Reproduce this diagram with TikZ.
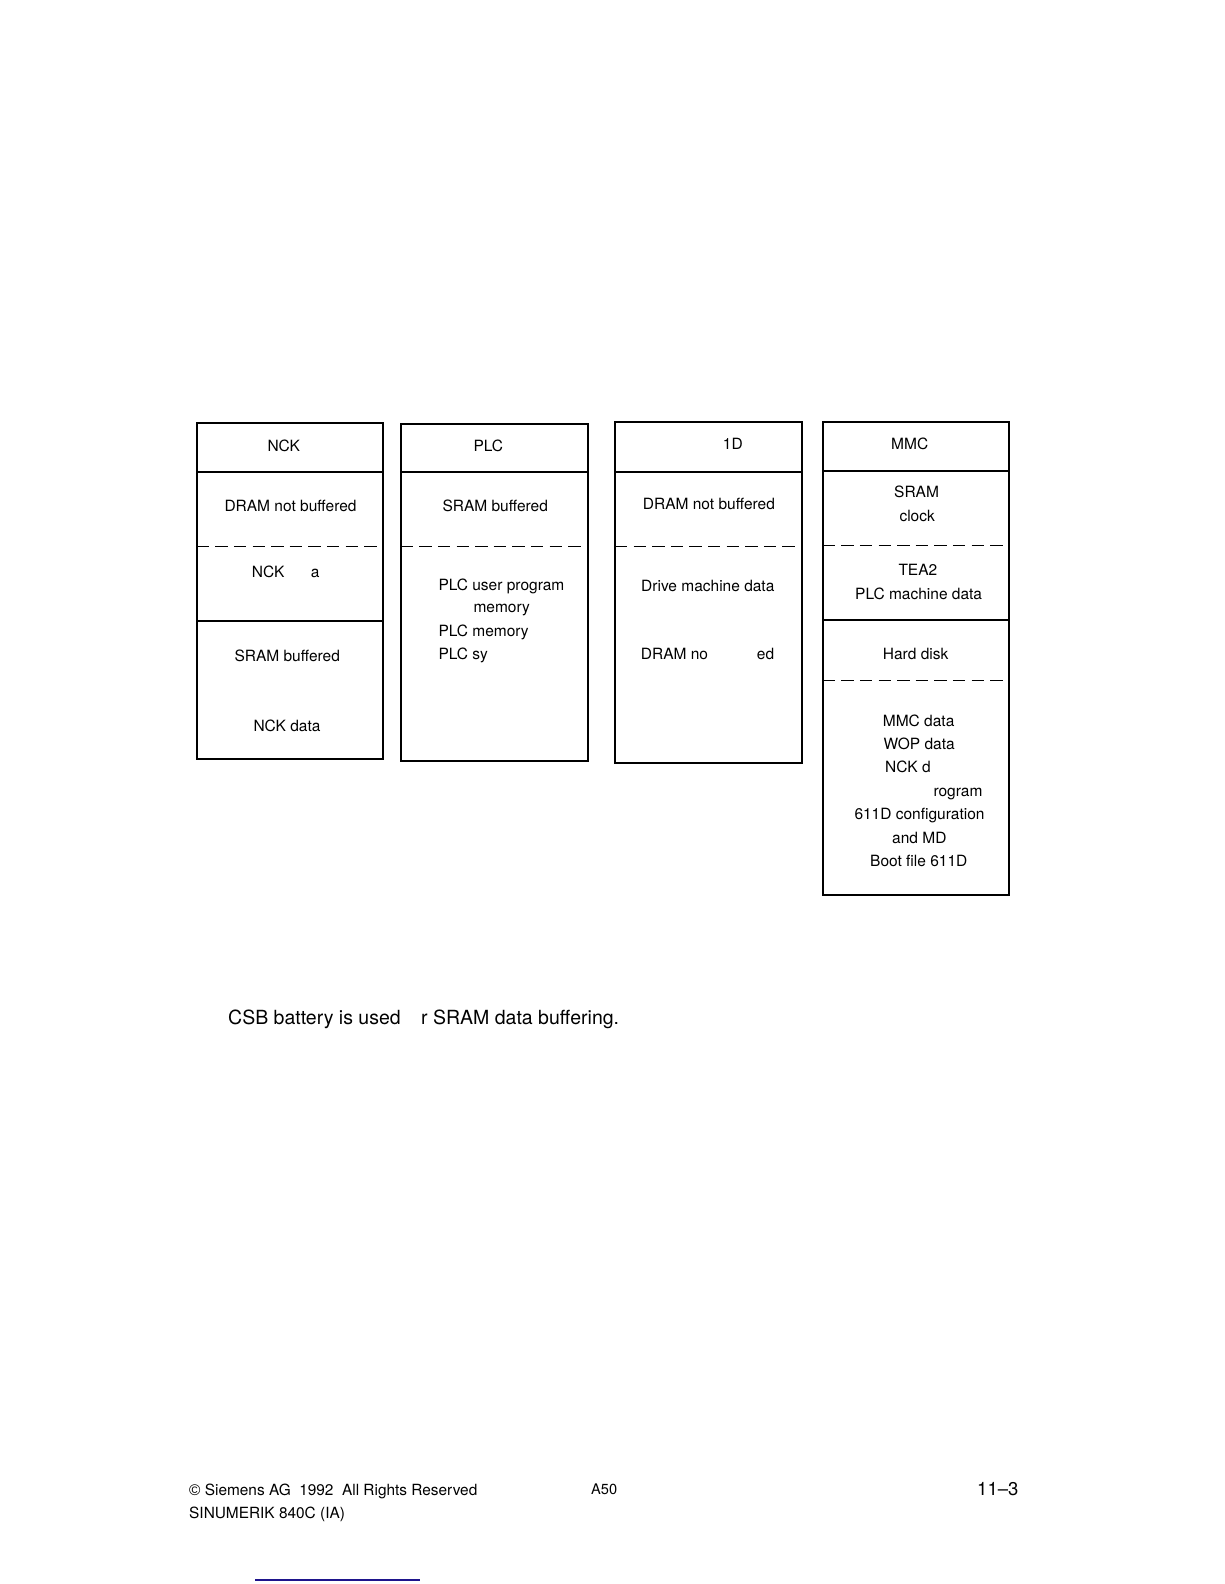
\documentclass[tikz,border=0pt]{standalone}
\usepackage{fontspec}
\setmainfont{TeX Gyre Heros}
\newfontfamily\arialf{Liberation Sans}
\definecolor{linkblue}{RGB}{30,20,140}
\begin{document}
\begin{tikzpicture}[x=1pt,y=-1pt,
  outer/.style={draw=black,line width=1.8pt},
  sepline/.style={draw=black,line width=1.2pt},
  midline/.style={draw=black,line width=1.6pt},
  dashline/.style={draw=black,line width=1pt,dash pattern=on 12.4pt off 6.2pt},
  lbl/.style={anchor=base west,inner sep=0pt,font=\fontsize{15.5}{18}\selectfont},
  note/.style={anchor=base west,inner sep=0pt,font=\fontsize{19.5}{22}\selectfont},
  foot/.style={anchor=base west,inner sep=0pt,font=\fontsize{15.4}{18}\selectfont}]
\useasboundingbox[fill=white] (0,0) rectangle (1224,1584);

% ---- box 1: NCK
\coordinate (b1tl) at (196.7,423); \coordinate (b1br) at (383,759);
\draw[outer] (b1tl) rectangle (b1br);
\draw[sepline] (196.7,472) -- (383,472);
\draw[dashline] (196.7,546) -- (376.5,546);
\draw[midline] (196.7,621) -- (383,621);
\node[lbl] (n1a) at (267.3,451) {NCK};
\node[lbl] (n1b) at (224.3,511.7) {DRAM not buffered};
\node[lbl] (n1c) at (251.7,577) {NCK};
\node[lbl] (n1d) at (310.7,577) {a};
\node[lbl] (n1e) at (234.3,661.7) {SRAM buffered};
\node[lbl] (n1f) at (253.3,731) {NCK data};

% ---- box 2: PLC
\coordinate (b2tl) at (400.7,424); \coordinate (b2br) at (588,761);
\draw[outer] (b2tl) rectangle (b2br);
\draw[sepline] (400.7,472) -- (588,472);
\draw[dashline] (400.7,546) -- (580.5,546);
\node[lbl] (n2a) at (473.3,451) {PLC};
\node[lbl] (n2b) at (442.3,511.7) {SRAM buffered};
\node[lbl] (n2c) at (438.3,590) {PLC user program};
\node[lbl] (n2d) at (473.3,612) {memory};
\node[lbl] (n2e) at (438.3,636.7) {PLC memory};
\node[lbl] (n2f) at (438.3,659) {PLC sy};

% ---- box 3: 1D
\coordinate (b3tl) at (615,422); \coordinate (b3br) at (802,763);
\draw[outer] (b3tl) rectangle (b3br);
\draw[sepline] (615,472) -- (802,472);
\draw[dashline] (615,546) -- (794.8,546);
\node[lbl] (n3a) at (722.7,449) {1D};
\node[lbl] (n3b) at (642.7,509) {DRAM not buffered};
\node[lbl] (n3c) at (641,591) {Drive machine data};
\node[lbl] (n3d) at (640.7,659) {DRAM no};
\node[lbl] (n3e) at (756.7,659) {ed};

% ---- box 4: MMC
\coordinate (b4tl) at (822.7,422); \coordinate (b4br) at (1009,895);
\draw[outer] (b4tl) rectangle (b4br);
\draw[sepline] (822.7,471) -- (1009,471);
\draw[dashline] (822.7,545) -- (1002.5,545);
\draw[midline] (822.7,620) -- (1009,620);
\draw[dashline] (822.7,680) -- (1002.5,680);
\node[lbl] (n4a) at (891,449) {MMC};
\node[lbl] (n4b) at (894,497) {SRAM};
\node[lbl] (n4c) at (899.3,521) {clock};
\node[lbl] (n4d) at (898.3,575) {TEA2};
\node[lbl] (n4e) at (855,599) {PLC machine data};
\node[lbl] (n4f) at (882.7,659) {Hard disk};
\node[lbl] (n4g) at (882.7,726) {MMC data};
\node[lbl] (n4h) at (883.3,749) {WOP data};
\node[lbl] (n4i) at (885,772) {NCK d};
\node[lbl] (n4j) at (933.3,796) {rogram};
\node[lbl] (n4k) at (854.3,819) {611D configuration};
\node[lbl] (n4l) at (892,843) {and MD};
\node[lbl] (n4m) at (870,866) {Boot file 611D};

% ---- note
\node[note] (csb1) at (228,1024.5) {CSB battery is used};
\node[note] (csb2) at (421,1024.5) {r SRAM data buffering.};

% ---- footer
\node[foot] (f1) at (189,1495) {{\arialf ©}\ Siemens AG\ \ 1992\ \ All Rights Reserved};
\node[foot] (f2) at (189,1518) {SINUMERIK 840C (IA)};
\node[foot,font=\fontsize{14.6}{17}\selectfont] (f3) at (591,1494) {A50};
\node[foot,font=\fontsize{18.5}{21}\selectfont] (f4) at (977,1495) {11--3};
\coordinate (bl1) at (255,1580); \coordinate (bl2) at (420,1580);
\draw[linkblue,line width=1.3pt] (bl1) -- (bl2);
\end{tikzpicture}
\end{document}
